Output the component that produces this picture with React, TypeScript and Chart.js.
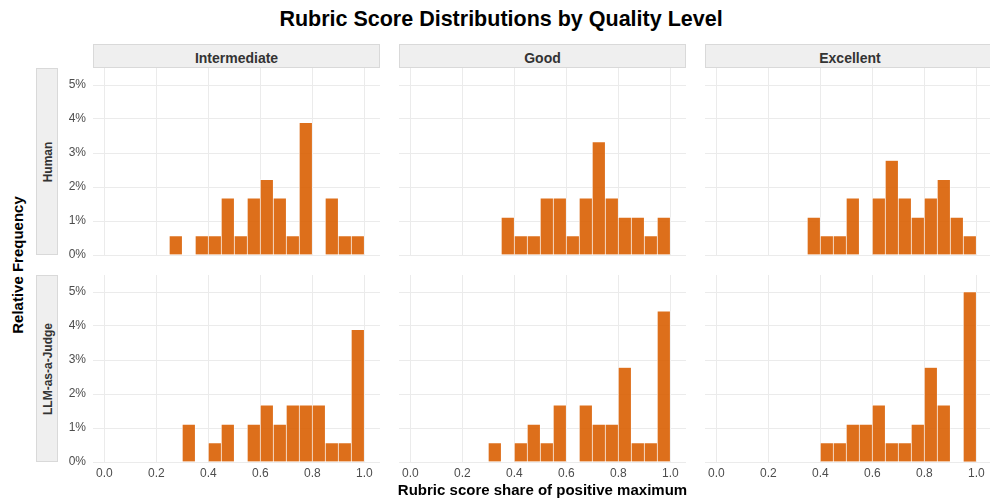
import React, { useEffect, useRef } from "react";
import { Chart, registerables } from "chart.js";

Chart.register(...registerables);

// ---- Data ----
const binCenters = [
  0.025, 0.075, 0.125, 0.175, 0.225, 0.275, 0.325, 0.375, 0.425, 0.475,
  0.525, 0.575, 0.625, 0.675, 0.725, 0.775, 0.825, 0.875, 0.925, 0.975,
];
const columnLabels = ["Intermediate", "Good", "Excellent"];
const rowLabels = ["Human", "LLM-as-a-Judge"];

// relative frequency (%) per bin
const humanIntermediate = [0, 0, 0, 0, 0, 0.56, 0, 0.56, 0.56, 1.67, 0.56, 1.67, 2.22, 1.67, 0.56, 3.89, 0, 1.67, 0.56, 0.56];
const humanGood = [0, 0, 0, 0, 0, 0, 0, 1.11, 0.56, 0.56, 1.67, 1.67, 0.56, 1.67, 3.33, 1.67, 1.11, 1.11, 0.56, 1.11];
const humanExcellent = [0, 0, 0, 0, 0, 0, 0, 1.11, 0.56, 0.56, 1.67, 0, 1.67, 2.78, 1.67, 1.11, 1.67, 2.22, 1.11, 0.56];
const llmIntermediate = [0, 0, 0, 0, 0, 0, 1.11, 0, 0.56, 1.11, 0, 1.11, 1.67, 1.11, 1.67, 1.67, 1.67, 0.56, 0.56, 3.89];
const llmGood = [0, 0, 0, 0, 0, 0, 0.56, 0, 0.56, 1.11, 0.56, 1.67, 0, 1.67, 1.11, 1.11, 2.78, 0.56, 0.56, 4.44];
const llmExcellent = [0, 0, 0, 0, 0, 0, 0, 0, 0.56, 0.56, 1.11, 1.11, 1.67, 0.56, 0.56, 1.11, 2.78, 1.67, 0, 5.0];

const xTickValues = [0, 0.2, 0.4, 0.6, 0.8, 1.0];
const yTickValues = [0, 1, 2, 3, 4, 5];

const panelValues = [
  [humanIntermediate, humanGood, humanExcellent],
  [llmIntermediate, llmGood, llmExcellent],
];

// ---- Styling / layout ----
const FONT = "'Liberation Sans', Arial, Helvetica, sans-serif";
const BAR = "rgba(217,95,2,0.9)";
const EDGE = "rgba(255,255,255,0.75)";
const GRID = "#EBEBEB";
const TICK = "#4D4D4D";
const PX_PER_UNIT = 260;
const X_MIN = -11.3 / PX_PER_UNIT;
const Y_MAX = 5.5;
const PANEL_H = 187;
const X_AXIS_H = 22;
const Y_AXIS_W = 40;
const colLefts = [93, 399, 705];
const colWidths = [287, 287, 285];
const rowTops = [68, 275];

type PanelProps = {
  values: number[];
  showY: boolean;
  showX: boolean;
  left: number;
  top: number;
  width: number;
};

function zeroPad(s: any) {
  s.paddingLeft = 0;
  s.paddingRight = 0;
  s.paddingTop = 0;
  s.paddingBottom = 0;
}

function Panel({ values, showY, showX, left, top, width }: PanelProps) {
  const ref = useRef<HTMLCanvasElement>(null);
  const yW = showY ? Y_AXIS_W : 0;
  const cw = width + yW;
  const ch = PANEL_H + X_AXIS_H;
  useEffect(() => {
    const xMax = X_MIN + width / PX_PER_UNIT;
    const chart = new Chart(ref.current as HTMLCanvasElement, {
      type: "bar",
      data: {
        datasets: [
          {
            data: binCenters.map((x, i) => ({ x, y: values[i] })),
            backgroundColor: BAR,
            borderColor: EDGE,
            borderWidth: 0.7,
            barPercentage: 1,
            categoryPercentage: 1,
          } as any,
        ],
      },
      options: {
        animation: false,
        responsive: false,
        maintainAspectRatio: false,
        devicePixelRatio: 1,
        layout: { padding: 0 },
        events: [],
        plugins: {
          legend: { display: false },
          tooltip: { enabled: false },
          title: { display: false },
        },
        scales: {
          x: {
            type: "linear",
            min: X_MIN,
            max: xMax,
            offset: false,
            grid: { color: GRID, lineWidth: 1, drawTicks: false, offset: false },
            border: { display: false },
            ticks: {
              display: showX,
              padding: 4,
              color: TICK,
              font: { family: FONT, size: 12 },
              maxRotation: 0,
              autoSkip: false,
              callback: (v: any) => Number(v).toFixed(1),
            },
            afterBuildTicks: (s: any) => {
              s.ticks = xTickValues.map((v) => ({ value: v }));
            },
            afterFit: (s: any) => {
              s.height = X_AXIS_H;
              zeroPad(s);
            },
          },
          y: {
            type: "linear",
            min: 0,
            max: Y_MAX,
            grid: { color: GRID, lineWidth: 1, drawTicks: false },
            border: { display: false },
            ticks: {
              display: showY,
              padding: 7,
              color: TICK,
              font: { family: FONT, size: 12 },
              callback: (v: any) => `${v}%`,
            },
            afterBuildTicks: (s: any) => {
              s.ticks = yTickValues.map((v) => ({ value: v }));
            },
            afterFit: (s: any) => {
              s.width = yW;
              zeroPad(s);
            },
          },
        },
      } as any,
    });
    return () => chart.destroy();
  }, []);
  return (
    <canvas
      ref={ref}
      width={cw}
      height={ch}
      style={{ position: "absolute", left: left - yW, top, width: cw, height: ch }}
    />
  );
}

export default function App() {
  const panels: React.ReactNode[] = [];
  rowTops.forEach((top, r) => {
    colLefts.forEach((left, c) => {
      panels.push(
        <Panel
          key={`${r}-${c}`}
          values={panelValues[r][c]}
          showY={c === 0}
          showX={r === 1}
          left={left}
          top={top}
          width={colWidths[c]}
        />
      );
    });
  });

  const stripStyle: React.CSSProperties = {
    position: "absolute",
    background: "#EFEFEF",
    border: "1px solid #D9D9D9",
    boxSizing: "border-box",
    color: "#333333",
    fontWeight: "bold",
    fontFamily: FONT,
  };

  return (
    <div
      style={{
        position: "fixed",
        left: 0,
        top: 0,
        width: 990,
        height: 504,
        overflow: "hidden",
        background: "#ffffff",
        fontFamily: FONT,
      }}
    >
      {/* Title */}
      <div
        style={{
          position: "absolute",
          left: 501,
          top: 8.5,
          transform: "translateX(-50%)",
          whiteSpace: "nowrap",
          fontSize: 21.5,
          lineHeight: "21.5px",
          fontWeight: "bold",
          color: "#000",
        }}
      >
        Rubric Score Distributions by Quality Level
      </div>

      {/* Column strips */}
      {columnLabels.map((lab, c) => (
        <div
          key={lab}
          style={{
            ...stripStyle,
            left: colLefts[c],
            top: 44,
            width: c === 2 ? 290 : colWidths[c],
            height: 24,
            fontSize: 14,
            lineHeight: "24px",
            textAlign: "center",
            paddingTop: 1,
          }}
        >
          {lab}
        </div>
      ))}

      {/* Row strips */}
      {rowLabels.map((lab, r) => (
        <React.Fragment key={lab}>
          <div
            style={{
              ...stripStyle,
              left: 36,
              top: rowTops[r],
              width: 22,
              height: PANEL_H,
            }}
          />
          <div
            style={{
              position: "absolute",
              left: 47.5,
              top: rowTops[r] + PANEL_H / 2,
              transform: "translate(-50%,-50%) rotate(-90deg)",
              whiteSpace: "nowrap",
              fontSize: 12,
              lineHeight: "12px",
              fontWeight: "bold",
              color: "#333333",
            }}
          >
            {lab}
          </div>
        </React.Fragment>
      ))}

      {panels}

      {/* Y title */}
      <div
        style={{
          position: "absolute",
          left: 16.5,
          top: 265,
          transform: "translate(-50%,-50%) rotate(-90deg)",
          whiteSpace: "nowrap",
          fontSize: 15,
          lineHeight: "15px",
          fontWeight: "bold",
          color: "#000",
        }}
      >
        Relative Frequency
      </div>

      {/* X title */}
      <div
        style={{
          position: "absolute",
          left: 542.5,
          top: 482.3,
          transform: "translateX(-50%)",
          whiteSpace: "nowrap",
          fontSize: 15,
          lineHeight: "15px",
          fontWeight: "bold",
          color: "#000",
        }}
      >
        Rubric score share of positive maximum
      </div>
    </div>
  );
}
